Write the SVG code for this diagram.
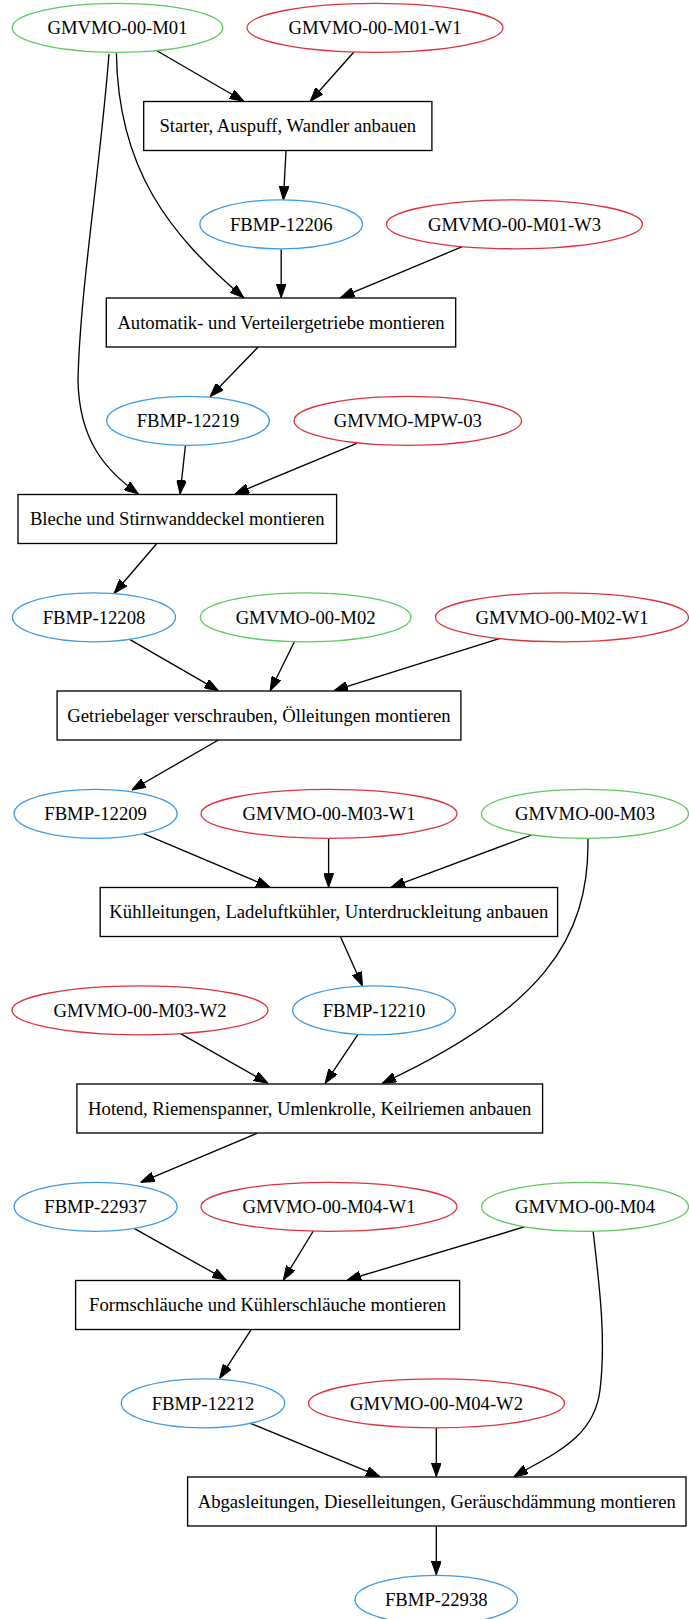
<svg xmlns="http://www.w3.org/2000/svg" width="689" height="1619" viewBox="0 0 689 1619">
  <style>
    .bg { fill: #ffffff; }
    .lbl { font-family: "Liberation Serif", "Times New Roman", serif; font-size: 18.67px; text-anchor: middle; fill: #000000; }
    .op { fill: #ffffff; stroke: #000000; stroke-width: 1.33; }
    .mat { fill: #ffffff; stroke: #5ec95e; stroke-width: 1.33; }
    .tool { fill: #ffffff; stroke: #e0323c; stroke-width: 1.33; }
    .part { fill: #ffffff; stroke: #3d9be6; stroke-width: 1.33; }
    .edge { fill: none; stroke: #000000; stroke-width: 1.33; marker-end: url(#arrow); }
  </style>
  <defs>
    <marker id="arrow" markerUnits="userSpaceOnUse" markerWidth="14" markerHeight="10" viewBox="0 0 14 10" refX="14" refY="5" orient="auto">
      <path d="M0,0 L14,5 L0,10 z" fill="#000000" stroke="#000000" stroke-width="1"/>
    </marker>
  </defs>
  <rect class="bg" x="0" y="0" width="689" height="1619"/>

  <!-- connectors -->
  <g id="edges">
    <path class="edge" d="M156.9,50.7 L243.8,101.3"/>
    <path class="edge" d="M353.7,52.3 L310.2,101.3"/>
    <path class="edge" d="M116.4,53.3 C118,170 170,235 243.8,297.7"/>
    <path class="edge" d="M109,54 C100,170 80,290 78,380 C79,440 105,470 138.4,494"/>
    <path class="edge" d="M286,150.7 L283.4,200"/>
    <path class="edge" d="M281.2,249.3 L281.2,297.7"/>
    <path class="edge" d="M462.2,246.7 L340.5,297.7"/>
    <path class="edge" d="M257.9,347.3 L210,396.7"/>
    <path class="edge" d="M185.4,445.7 L180.1,494"/>
    <path class="edge" d="M356.8,443.3 L235,494"/>
    <path class="edge" d="M156.4,544 L114.2,593.3"/>
    <path class="edge" d="M129.6,639.3 L218.4,690.7"/>
    <path class="edge" d="M294.4,641.7 L270.2,690.7"/>
    <path class="edge" d="M500,638.3 L333.9,690.7"/>
    <path class="edge" d="M218.4,740 L131.8,790"/>
    <path class="edge" d="M142.8,833.3 L270.2,887.3"/>
    <path class="edge" d="M328.6,838.3 L328.6,887.3"/>
    <path class="edge" d="M531.6,835 L391,887.3"/>
    <path class="edge" d="M587.9,838.3 C590,940 540,1010 382.2,1083.3"/>
    <path class="edge" d="M340.5,936.7 L362.5,986"/>
    <path class="edge" d="M180.1,1033.3 L268,1083.3"/>
    <path class="edge" d="M358,1034.3 L325.1,1083.3"/>
    <path class="edge" d="M257,1133.3 L140.6,1182.3"/>
    <path class="edge" d="M134,1228.3 L226.3,1280"/>
    <path class="edge" d="M313.3,1231 L283.4,1280"/>
    <path class="edge" d="M525,1226.7 L347.1,1280"/>
    <path class="edge" d="M593.1,1231 C600,1290 606,1340 600,1390 C594,1440 550,1455 514,1476.7"/>
    <path class="edge" d="M251.3,1329.3 L219.7,1378.3"/>
    <path class="edge" d="M250.4,1423.3 L380,1476.7"/>
    <path class="edge" d="M436.3,1427.7 L436.3,1476.7"/>
    <path class="edge" d="M436.3,1525.7 L436.3,1575"/>
  </g>

  <!-- nodes -->
  <g id="GMVMO-00-M01"><ellipse class="mat" cx="117.5" cy="27.8" rx="105.3" ry="24.5"/><text class="lbl" x="117.5" y="34">GMVMO-00-M01</text></g>
  <g id="GMVMO-00-M01-W1"><ellipse class="tool" cx="375" cy="27.8" rx="128" ry="24.5"/><text class="lbl" x="375" y="34">GMVMO-00-M01-W1</text></g>
  <g id="op_starter"><rect class="op" x="143.7" y="101.5" width="288.2" height="49"/><text class="lbl" x="287.8" y="132.3">Starter, Auspuff, Wandler anbauen</text></g>
  <g id="FBMP-12206"><ellipse class="part" cx="281.2" cy="224.3" rx="81.3" ry="24.5"/><text class="lbl" x="281.2" y="230.5">FBMP-12206</text></g>
  <g id="GMVMO-00-M01-W3"><ellipse class="tool" cx="514.5" cy="224.3" rx="128" ry="24.5"/><text class="lbl" x="514.5" y="230.5">GMVMO-00-M01-W3</text></g>
  <g id="op_automatik"><rect class="op" x="106.3" y="298" width="349.4" height="49"/><text class="lbl" x="281" y="328.8">Automatik- und Verteilergetriebe montieren</text></g>
  <g id="FBMP-12219"><ellipse class="part" cx="188" cy="420.8" rx="81.3" ry="24.5"/><text class="lbl" x="188" y="427">FBMP-12219</text></g>
  <g id="GMVMO-MPW-03"><ellipse class="tool" cx="407.8" cy="420.8" rx="113.8" ry="24.5"/><text class="lbl" x="407.8" y="427">GMVMO-MPW-03</text></g>
  <g id="op_bleche"><rect class="op" x="18" y="494.5" width="318.6" height="49"/><text class="lbl" x="177.3" y="525.3">Bleche und Stirnwanddeckel montieren</text></g>
  <g id="FBMP-12208"><ellipse class="part" cx="94" cy="617.3" rx="81.5" ry="24.5"/><text class="lbl" x="94" y="623.5">FBMP-12208</text></g>
  <g id="GMVMO-00-M02"><ellipse class="mat" cx="305.6" cy="617.3" rx="105.3" ry="24.5"/><text class="lbl" x="305.6" y="623.5">GMVMO-00-M02</text></g>
  <g id="GMVMO-00-M02-W1"><ellipse class="tool" cx="562" cy="617.3" rx="126.5" ry="24.5"/><text class="lbl" x="562" y="623.5">GMVMO-00-M02-W1</text></g>
  <g id="op_getriebelager"><rect class="op" x="57.1" y="691" width="403.8" height="49"/><text class="lbl" x="259" y="721.8">Getriebelager verschrauben, Ölleitungen montieren</text></g>
  <g id="FBMP-12209"><ellipse class="part" cx="95.6" cy="813.8" rx="81.5" ry="24.5"/><text class="lbl" x="95.6" y="820">FBMP-12209</text></g>
  <g id="GMVMO-00-M03-W1"><ellipse class="tool" cx="329" cy="813.8" rx="128" ry="24.5"/><text class="lbl" x="329" y="820">GMVMO-00-M03-W1</text></g>
  <g id="GMVMO-00-M03"><ellipse class="mat" cx="585" cy="813.8" rx="103.5" ry="24.5"/><text class="lbl" x="585" y="820">GMVMO-00-M03</text></g>
  <g id="op_kuehlleitungen"><rect class="op" x="100.2" y="887.5" width="457.4" height="49"/><text class="lbl" x="328.9" y="918.3">Kühlleitungen, Ladeluftkühler, Unterdruckleitung anbauen</text></g>
  <g id="GMVMO-00-M03-W2"><ellipse class="tool" cx="140" cy="1010.3" rx="128" ry="24.5"/><text class="lbl" x="140" y="1016.5">GMVMO-00-M03-W2</text></g>
  <g id="FBMP-12210"><ellipse class="part" cx="374" cy="1010.3" rx="81.3" ry="24.5"/><text class="lbl" x="374" y="1016.5">FBMP-12210</text></g>
  <g id="op_hotend"><rect class="op" x="76.9" y="1084" width="465.7" height="49"/><text class="lbl" x="309.7" y="1114.8">Hotend, Riemenspanner, Umlenkrolle, Keilriemen anbauen</text></g>
  <g id="FBMP-22937"><ellipse class="part" cx="95.6" cy="1206.8" rx="81.5" ry="24.5"/><text class="lbl" x="95.6" y="1213">FBMP-22937</text></g>
  <g id="GMVMO-00-M04-W1"><ellipse class="tool" cx="329" cy="1206.8" rx="128" ry="24.5"/><text class="lbl" x="329" y="1213">GMVMO-00-M04-W1</text></g>
  <g id="GMVMO-00-M04"><ellipse class="mat" cx="585" cy="1206.8" rx="103.5" ry="24.5"/><text class="lbl" x="585" y="1213">GMVMO-00-M04</text></g>
  <g id="op_formschlaeuche"><rect class="op" x="75.6" y="1280.5" width="384" height="49"/><text class="lbl" x="267.6" y="1311.3">Formschläuche und Kühlerschläuche montieren</text></g>
  <g id="FBMP-12212"><ellipse class="part" cx="203" cy="1403.3" rx="81.7" ry="24.5"/><text class="lbl" x="203" y="1409.5">FBMP-12212</text></g>
  <g id="GMVMO-00-M04-W2"><ellipse class="tool" cx="436.5" cy="1403.3" rx="128" ry="24.5"/><text class="lbl" x="436.5" y="1409.5">GMVMO-00-M04-W2</text></g>
  <g id="op_abgasleitungen"><rect class="op" x="187.6" y="1477" width="498.4" height="49"/><text class="lbl" x="436.8" y="1507.8">Abgasleitungen, Dieselleitungen, Geräuschdämmung montieren</text></g>
  <g id="FBMP-22938"><ellipse class="part" cx="436.3" cy="1599.8" rx="81.3" ry="24.5"/><text class="lbl" x="436.3" y="1606">FBMP-22938</text></g>
</svg>
